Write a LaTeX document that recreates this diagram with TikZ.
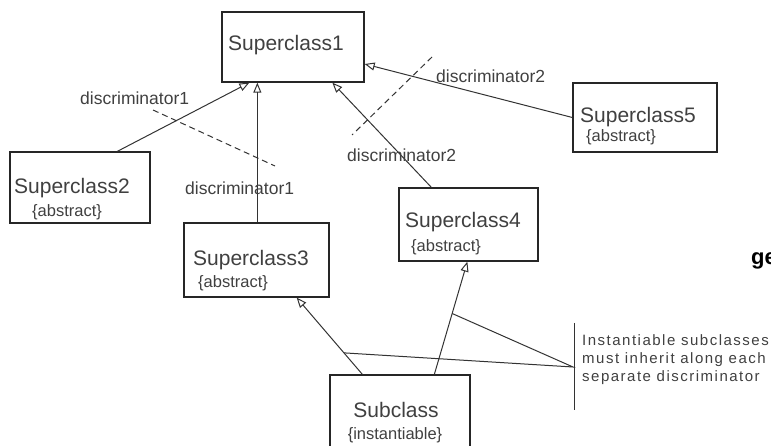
\documentclass[tikz,border=0pt]{standalone}
\usepackage{fontspec}
\setmainfont{Liberation Sans}
\newfontfamily\notefont[LetterSpace=10]{Liberation Sans}
\usetikzlibrary{arrows.meta}

\newcommand*{\picw}{771}
\newcommand*{\pich}{446}

\begin{document}
\begin{tikzpicture}
[
	x=1pt, y=-1pt,
	classbox/.style={rectangle,draw=black!85,line width=1.3pt,inner sep=0pt},
	nametxt/.style={anchor=west,inner sep=0pt,text=black!75,font=\fontsize{21}{24}\selectfont},
	stereotxt/.style={anchor=west,inner sep=0pt,text=black!75,font=\fontsize{16.5}{19}\selectfont},
	disctxt/.style={anchor=west,inner sep=0pt,text=black!75,font=\fontsize{17.5}{20}\selectfont},
	notetxt/.style={anchor=west,align=left,inner sep=0pt,text=black!75,font=\notefont\fontsize{15}{18}\selectfont},
	inherit/.style={-{Triangle[open,length=10pt,width=8pt]},line width=1pt,draw=black!80},
	discline/.style={dash pattern=on 6pt off 4pt,line width=1pt,draw=black!80},
	noteline/.style={line width=1pt,draw=black!80}
]

	\useasboundingbox (0,0) rectangle (\picw,\pich);

	% classes
	\node[classbox,minimum width=142pt,minimum height=70pt] at (293,47) (sc1) {};
	\node[classbox,minimum width=140pt,minimum height=71pt] at (80,187.5) (sc2) {};
	\node[classbox,minimum width=145pt,minimum height=74pt] at (256.5,260) (sc3) {};
	\node[classbox,minimum width=139pt,minimum height=73pt] at (468.5,224.5) (sc4) {};
	\node[classbox,minimum width=144pt,minimum height=69pt] at (645,117.5) (sc5) {};
	\node[classbox,minimum width=140pt,minimum height=80pt] at (400,415) (sub) {};

	\node[nametxt] at (228,45) (sc1name) {Superclass1};
	\node[nametxt] at (14,188) (sc2name) {Superclass2};
	\node[stereotxt] at (32,212) (sc2st) {\{abstract\}};
	\node[nametxt] at (193,260) (sc3name) {Superclass3};
	\node[stereotxt] at (198,283) (sc3st) {\{abstract\}};
	\node[nametxt] at (405,222) (sc4name) {Superclass4};
	\node[stereotxt] at (411,247) (sc4st) {\{abstract\}};
	\node[nametxt] at (580,117) (sc5name) {Superclass5};
	\node[stereotxt] at (586,137) (sc5st) {\{abstract\}};
	\node[nametxt,anchor=center] at (396,410) (subname) {Subclass};
	\node[stereotxt,anchor=center] at (395,435) (subst) {\{instantiable\}};

	% generalizations
	\draw[inherit] ([xshift=108pt]sc2.north west) -- ([xshift=28pt]sc1.south west);
	\draw[inherit] ([xshift=74pt]sc3.north west) -- ([xshift=36pt]sc1.south west);
	\draw[inherit] ([xshift=33pt]sc4.north west) -- ([xshift=111pt]sc1.south west);
	\draw[inherit] (sc5.west) -- ([yshift=-17pt]sc1.east);
	\draw[inherit] ([xshift=33pt]sub.north west) -- coordinate[pos=0.28] (d3) ([xshift=-33pt]sc3.south east);
	\draw[inherit] ([xshift=105pt]sub.north west) -- coordinate[pos=0.54] (d4) ([xshift=69pt]sc4.south west);

	% discriminators
	\coordinate (d1a) at (153,110);
	\coordinate (d1b) at (275,166);
	\coordinate (d2a) at (432,57);
	\coordinate (d2b) at (352,135);
	\draw[discline] (d1a) -- (d1b);
	\draw[discline] (d2a) -- (d2b);

	\node[disctxt] at (80,98) (disc1a) {discriminator1};
	\node[disctxt] at (185,188) (disc1b) {discriminator1};
	\node[disctxt] at (436,76) (disc2a) {discriminator2};
	\node[disctxt] at (347,155) (disc2b) {discriminator2};

	% note
	\coordinate (notept) at (573,367);
	\coordinate (bartop) at (574,323);
	\coordinate (barbot) at (574,410);
	\draw[noteline] (d3) -- (notept) -- (d4);
	\draw[noteline] (bartop) -- (barbot);
	\node[notetxt] at (582,360) (note) {Instantiable subclasses\\must inherit along each\\separate discriminator};

	\node[anchor=base west,inner sep=0pt,font=\bfseries\fontsize{22}{24}\selectfont] at (751,265) (cut) {ge};

\end{tikzpicture}
\end{document}
